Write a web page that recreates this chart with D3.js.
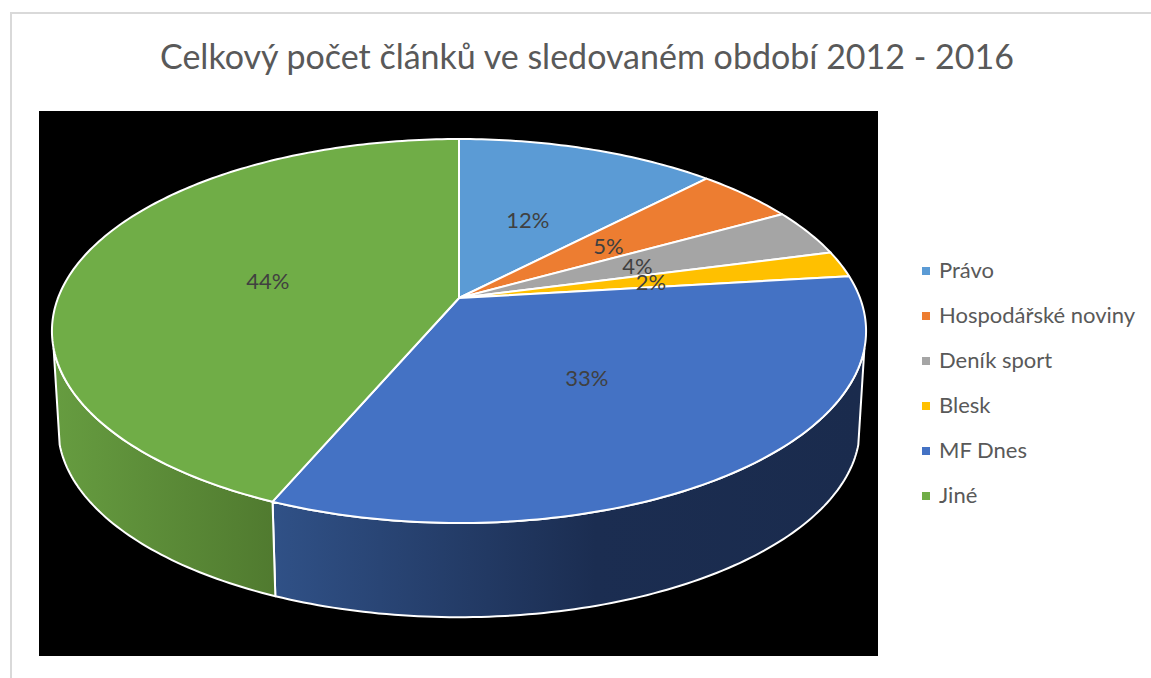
<!DOCTYPE html>
<html lang="cs">
<head>
<meta charset="utf-8">
<title>Celkový počet článků</title>
<script src="https://d3js.org/d3.v7.min.js"></script>
<style>
body { margin: 0; background: #fff; overflow: hidden; }
svg { display: block; }
text { font-family: Lato, "Open Sans", sans-serif; }
</style>
</head>
<body>
<script>
// values (share of articles, %)
var categories = ["Právo", "Hospodářské noviny", "Deník sport", "Blesk", "MF Dnes", "Jiné"];
var values = [12.2, 4.7, 4.0, 2.2, 33.3, 43.6];
var colors = ["#5b9bd5", "#ed7d31", "#a5a5a5", "#ffc000", "#4472c4", "#70ad47"];

var width = 1151, height = 678;
var svg = d3.select("body").append("svg").attr("width", width).attr("height", height);

// chart frame
svg.append("path").attr("d", "M11,678V13H1151").attr("fill", "none")
	.attr("stroke", "#d9d9d9").attr("stroke-width", 2);

svg.append("text").attr("x", 587).attr("y", 69).attr("text-anchor", "middle")
	.attr("font-size", 34).attr("fill", "#595959")
	.text("Celkový počet článků ve sledovaném období 2012 - 2016");

svg.append("rect").attr("x", 39).attr("y", 111).attr("width", 839).attr("height", 545).attr("fill", "#000");

// perspective disc: r is 0..1 of the radius, a is the pie angle
var persp = 0.172;
function project(a, r, disc) {
	var u = r * Math.sin(a), v = r * Math.cos(a), w = 1 + persp * v;
	return [disc.x + disc.rx * u / w, disc.y - disc.ry * v / w];
}
var topDisc = {x: 459, y: 298, rx: 401, ry: 186.3};
var lowDisc = {x: 459, y: 395, rx: 395, ry: 184};

var color = d3.scaleOrdinal().domain(categories).range(colors);
var pie = d3.pie().sort(null).value(function(d, i) { return values[i]; });
var slices = pie(categories);
var line = d3.line();

function arcPoints(a0, a1, disc) {
	var n = Math.max(2, Math.ceil(Math.abs(a1 - a0) * 60));
	return d3.range(n + 1).map(function(i) { return project(a0 + (a1 - a0) * i / n, 1, disc); });
}

// side wall gradients, darker towards the right
var defs = svg.append("defs");
function wallGradient(id, x1, x2, stops) {
	var g = defs.append("linearGradient").attr("id", id).attr("gradientUnits", "userSpaceOnUse")
		.attr("x1", x1).attr("x2", x2).attr("y1", 0).attr("y2", 0);
	stops.forEach(function(s) { g.append("stop").attr("offset", s[0]).attr("stop-color", s[1]); });
}
wallGradient("wall-MF", 272, 860, [[0, "#305187"], [0.55, "#1b2d51"], [1, "#1a2b4d"]]);
wallGradient("wall-Jine", 55, 276, [[0, "#669c40"], [1, "#507a2f"]]);
var wallFill = {"MF Dnes": "url(#wall-MF)", "Jiné": "url(#wall-Jine)"};

// only the part of the rim between the silhouette angles can be seen
var rimFrom = 105 * Math.PI / 180, rimTo = 255 * Math.PI / 180;
var walls = slices.filter(function(d) { return d.endAngle > rimFrom && d.startAngle < rimTo; });

svg.append("g").selectAll("path").data(walls).enter().append("path")
	.attr("d", function(d) {
		var a0 = Math.max(d.startAngle, rimFrom), a1 = Math.min(d.endAngle, rimTo);
		return line(arcPoints(a0, a1, topDisc).concat(arcPoints(a1, a0, lowDisc))) + "Z";
	})
	.attr("fill", function(d) { return wallFill[d.data]; })
	.attr("stroke", "#fff").attr("stroke-width", 2).attr("stroke-linejoin", "round");

// top of the pie
svg.append("g").selectAll("path").data(slices).enter().append("path")
	.attr("d", function(d) {
		return line([project(0, 0, topDisc)].concat(arcPoints(d.startAngle, d.endAngle, topDisc))) + "Z";
	})
	.attr("fill", function(d) { return color(d.data); })
	.attr("stroke", "#fff").attr("stroke-width", 2).attr("stroke-linejoin", "round");

// percent labels
var total = d3.sum(values);
svg.append("g").selectAll("text").data(slices).enter().append("text")
	.attr("transform", function(d) {
		return "translate(" + project((d.startAngle + d.endAngle) / 2, 0.495, topDisc) + ")";
	})
	.attr("text-anchor", "middle").attr("dy", "0.42em")
	.attr("font-size", 22).attr("fill", "#404040")
	.text(function(d) { return d3.format(".0f")(d.value / total * 100) + "%"; });

// legend
var legendY = d3.scalePoint().domain(categories).range([271, 496]);
var legend = svg.append("g").selectAll("g").data(categories).enter().append("g")
	.attr("transform", function(d) { return "translate(922," + legendY(d) + ")"; });
legend.append("rect").attr("y", -4).attr("width", 8).attr("height", 8)
	.attr("fill", function(d) { return color(d); });
legend.append("text").attr("x", 17).attr("dy", "0.3em")
	.attr("font-size", 22).attr("fill", "#595959")
	.text(function(d) { return d; });
</script>
</body>
</html>
